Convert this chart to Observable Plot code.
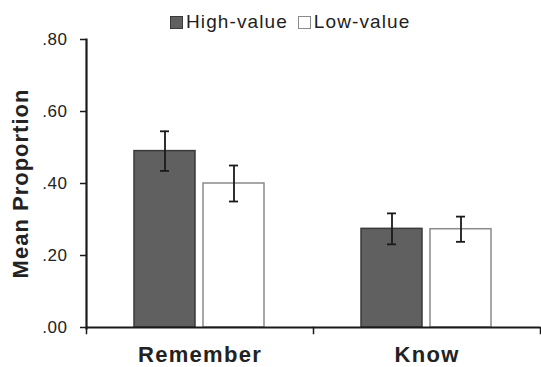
<!DOCTYPE html>
<html>
<head>
<meta charset="utf-8">
<script src="https://cdn.jsdelivr.net/npm/d3@7"></script>
<script src="https://cdn.jsdelivr.net/npm/@observablehq/plot@0.6"></script>
<style>
  html, body { margin: 0; padding: 0; background: #fff; }
  #wrap { position: relative; width: 541px; height: 367px; font-family: "Liberation Sans", Arial, sans-serif; }
  #legend { position: absolute; top: 11px; left: 170px; display: flex; align-items: center; font-size: 19px; letter-spacing: 1.1px; color: #1e1e1e; white-space: nowrap; }
  #legend .sw { display: inline-block; width: 11px; height: 11px; border: 1px solid #555; margin-right: 3px; }
  #legend .item { display: flex; align-items: center; margin-right: 10px; }
  g[aria-label="fx-axis tick label"] text { letter-spacing: 1.3px; }
  g[aria-label="y-axis label"] text { letter-spacing: 1px; }
  g[aria-label="y-axis tick label"] text { letter-spacing: 0.5px; }
</style>
</head>
<body>
<div id="wrap"><div id="legend"></div></div>
<script>
const categories = ["Remember", "Know"];
const series = ["High-value", "Low-value"];
const highValues = [0.49, 0.274];
const lowValues = [0.40, 0.273];
const highErrors = [0.055, 0.043];
const lowErrors = [0.050, 0.035];
const yTicks = [0, 0.2, 0.4, 0.6, 0.8];
const colors = ["#606060", "#ffffff"];
const strokes = ["#3a3a3a", "#8a8a8a"];

const data = [];
categories.forEach((c, i) => {
  data.push({category: c, series: series[0], value: highValues[i], err: highErrors[i]});
  data.push({category: c, series: series[1], value: lowValues[i], err: lowErrors[i]});
});

const legend = document.getElementById("legend");
series.forEach((s, i) => {
  const it = document.createElement("span");
  it.className = "item";
  const sw = document.createElement("span");
  sw.className = "sw";
  sw.style.background = colors[i];
  sw.style.borderColor = strokes[i];
  it.appendChild(sw);
  it.appendChild(document.createTextNode(s));
  legend.appendChild(it);
});

const W = 541, H = 367, MT = 39, MB = 40;
const innerH = H - MT - MB;

const chart = Plot.plot({
  width: W,
  height: H,
  marginTop: MT,
  marginBottom: MB,
  marginLeft: 86,
  marginRight: 1,
  style: {fontFamily: "Liberation Sans, Arial, sans-serif", color: "#222", background: "transparent"},
  fx: {domain: categories, padding: 0},
  x: {domain: series, paddingInner: 0.114, paddingOuter: 0.68},
  y: {domain: [0, 0.8]},
  color: {domain: series, range: colors},
  marks: [
    Plot.barY(data, {fx: "category", x: "series", y: "value", fill: "series",
      stroke: d => d.series === series[0] ? strokes[0] : strokes[1], strokeWidth: 1.5}),
    Plot.ruleX(data, {fx: "category", x: "series", y1: d => d.value - d.err, y2: d => d.value + d.err, stroke: "#1a1a1a", strokeWidth: 1.8}),
    Plot.tickY(data, {fx: "category", x: "series", y: d => d.value + d.err, stroke: "#1a1a1a", strokeWidth: 1.8, insetLeft: 26, insetRight: 26}),
    Plot.tickY(data, {fx: "category", x: "series", y: d => d.value - d.err, stroke: "#1a1a1a", strokeWidth: 1.8, insetLeft: 26, insetRight: 26}),
    Plot.ruleY([0], {stroke: "#1a1a1a", strokeWidth: 2.2}),
    // category boundary ticks below the x-axis
    Plot.frame({anchor: "left", stroke: "#1a1a1a", strokeWidth: 1.5, insetTop: innerH, insetBottom: -6}),
    Plot.frame({anchor: "right", facetAnchor: "right", stroke: "#1a1a1a", strokeWidth: 1.5, insetTop: innerH, insetBottom: -6}),
    // y-axis line
    Plot.frame({anchor: "left", facetAnchor: "left", stroke: "#1a1a1a", strokeWidth: 2.2, insetBottom: -1}),
    Plot.axisX({ticks: [], label: null, tickSize: 0}),
    Plot.axisFx({anchor: "bottom", tickSize: 0, tickPadding: 19, fontSize: 22, fontWeight: "bold", label: null, fill: "#222"}),
    Plot.axisY({ticks: yTicks, tickFormat: d => d3.format(".2f")(d).replace(/^0/, ""), tickSize: 6, tickPadding: 13,
      fontSize: 17, label: null, stroke: "#1a1a1a", strokeWidth: 1.5, fill: "#222"}),
    Plot.axisY({ticks: [], label: "Mean Proportion", labelAnchor: "center", labelArrow: "none", labelOffset: 74, fontSize: 22, fontWeight: "bold", tickSize: 0})
  ]
});
document.getElementById("wrap").appendChild(chart);
</script>
</body>
</html>
